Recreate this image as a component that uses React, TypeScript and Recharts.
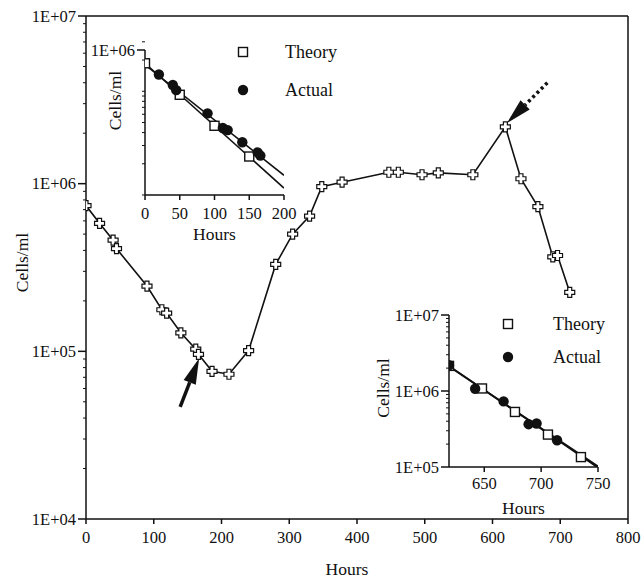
// Washout culture: cell density over time, with two fitted washout insets.
import React from 'react'
import { LineChart, Line, XAxis, YAxis, ReferenceLine, Legend } from 'recharts'

const FONT = "'Liberation Serif', 'Times New Roman', Times, serif"
const INK = '#111'
const txt = { fontFamily: FONT, fill: INK }

// full run
const hours = [0, 20, 40, 45, 90, 112, 119, 140, 162, 166, 186, 211, 240, 280, 305, 330, 348, 378, 447, 461, 496, 520, 571, 619, 642, 667, 689, 696, 714]
const cells = [7.4e5, 5.8e5, 4.6e5, 4.1e5, 2.45e5, 1.77e5, 1.69e5, 1.29e5, 1.03e5, 9.6e4, 7.6e4, 7.3e4, 1.01e5, 3.3e5, 5.0e5, 6.4e5, 9.6e5, 1.02e6, 1.17e6, 1.17e6, 1.13e6, 1.16e6, 1.13e6, 2.18e6, 1.07e6, 7.3e5, 3.66e5, 3.73e5, 2.25e5]

// first washout (0-200 h)
const wash1Hours = [0, 50, 100, 150]
const wash1Theory = [7.45e5, 3.7e5, 1.86e5, 9.4e4]
const fit1Hours = [0, 200]
const fit1Theory = [7.45e5, 4.66e4]
const fit1Actual = [7.2e5, 6.2e4]

// second washout (620-750 h)
const wash2Hours = [619, 648, 677, 706, 735]
const wash2Theory = [2.14e6, 1.08e6, 5.3e5, 2.67e5, 1.35e5]
const fit2Hours = [619, 750]
const fit2Theory = [2.14e6, 9.8e4]
const fit2Actual = [2.1e6, 1.02e5]

// arrows: [tail, tip] in hours / cells
const arrowSolid = { hours: [139, 167], cells: [4.66e4, 9.1e4] }
const arrowDotted = { hours: [681, 621], cells: [4.0e6, 2.29e6] }

const mainXTicks = [0, 100, 200, 300, 400, 500, 600, 700, 800]
const inset1XTicks = [0, 50, 100, 150, 200]
const inset2XTicks = [650, 700, 750]

const rows = (t: number[], v: number[]) => t.map((h, i) => ({ t: h, v: v[i] }))

const logTicks = (lo: number, hi: number) => {
  const out: number[] = []
  for (let d = lo; d < hi; d *= 10) {
    for (let m = 1; m < 10; m++) if (d * m >= lo) out.push(d * m)
  }
  out.push(hi)
  return out
}

const mainRows = rows(hours, cells)
const wash1Actual = mainRows.slice(1, 10)
const wash2Actual = mainRows.slice(23)

function YTick({ x, y, payload }: any) {
  const e = Math.log10(payload.value)
  const major = Math.abs(e - Math.round(e)) < 1e-6
  if (!major) return <line x1={x - 3} x2={x} y1={y} y2={y} stroke={INK} strokeWidth={1} />
  return (
    <g>
      <line x1={x - 8} x2={x} y1={y} y2={y} stroke={INK} strokeWidth={1.5} />
      <text x={x - 10} y={y} dy="0.35em" textAnchor="end" fontSize={16.5} style={txt}>
        {`1E+${String(Math.round(e)).padStart(2, '0')}`}
      </text>
    </g>
  )
}

const xTick = (gap: number) => ({ x, y, payload }: any) => (
  <g>
    <line x1={x} x2={x} y1={y} y2={y + 5} stroke={INK} strokeWidth={1.5} />
    <text x={x} y={y + gap} dy="0.35em" textAnchor="middle" fontSize={16.5} style={txt}>
      {payload.value}
    </text>
  </g>
)

const xTitle = (dx: number, dy: number) => (p: any) => {
  const vb = p.viewBox || p
  return (
    <text x={vb.x + vb.width / 2 + dx} y={vb.y + dy} dy="0.35em" textAnchor="middle" fontSize={17.5} style={txt}>
      Hours
    </text>
  )
}

const yTitle = (dx: number, dy: number) => (p: any) => {
  const vb = p.viewBox || p
  const cx = vb.x + dx
  const cy = vb.y + vb.height / 2 + dy
  return (
    <text x={cx} y={cy} dy="0.35em" textAnchor="middle" transform={`rotate(-90 ${cx} ${cy})`} fontSize={17.5} style={txt}>
      Cells/ml
    </text>
  )
}

const PlusDot = ({ cx, cy, index }: any) => {
  if (cx == null || cy == null) return null
  const a = 2, l = 5
  const d = `M${cx - a},${cy - l}H${cx + a}V${cy - a}H${cx + l}V${cy + a}H${cx + a}V${cy + l}H${cx - a}V${cy + a}H${cx - l}V${cy - a}H${cx - a}Z`
  return <path key={`p${index}`} d={d} fill="#fff" stroke={INK} strokeWidth={1.2} />
}

const SquareDot = ({ cx, cy, index }: any) => {
  if (cx == null || cy == null) return null
  return <rect key={`s${index}`} x={cx - 4.5} y={cy - 4.5} width={9} height={9} fill="#fff" stroke={INK} strokeWidth={1.4} />
}

const RoundDot = ({ cx, cy, index }: any) => {
  if (cx == null || cy == null) return null
  return <circle key={`c${index}`} cx={cx} cy={cy} r={5.2} fill={INK} />
}

const arrowShape = (dotted: boolean) => (p: any) => {
  const { x1, y1, x2, y2 } = p
  const len = Math.hypot(x2 - x1, y2 - y1) || 1
  const ux = (x2 - x1) / len, uy = (y2 - y1) / len
  const head = 26, half = 6.5
  const bx = x2 - ux * head, by = y2 - uy * head
  return (
    <g>
      <line x1={x1} y1={y1} x2={bx} y2={by} stroke={INK} strokeWidth={3.5} strokeDasharray={dotted ? '3 3' : undefined} />
      <polygon points={`${x2},${y2} ${bx - uy * half},${by + ux * half} ${bx + uy * half},${by - ux * half}`} fill={INK} />
    </g>
  )
}

// squares (theory) before dots (actual), whatever order the legend hands over
const insetKey = (textX: number, y0: number, gap: number) => (p: any) => {
  const items = (p.payload || [])
    .filter((e: any) => e.type !== 'none')
    .sort((a: any, b: any) => (a.type === 'square' ? -1 : 0) - (b.type === 'square' ? -1 : 0))
  return (
    <svg width={140} height={80} style={{ overflow: 'visible', display: 'block' }}>
      {items.map((e: any, i: number) => {
        const y = y0 + i * gap
        return (
          <g key={e.value}>
            {e.type === 'square'
              ? <rect x={8.5} y={y - 4.5} width={9} height={9} fill="#fff" stroke={INK} strokeWidth={1.4} />
              : <circle cx={13} cy={y} r={5.2} fill={INK} />}
            <text x={textX} y={y} dy="0.35em" fontSize={18} style={txt}>{e.value}</text>
          </g>
        )
      })}
    </svg>
  )
}

const axisLine = { stroke: INK, strokeWidth: 1.5 }

function EarlyWashout() {
  return (
    <LineChart width={300} height={210} margin={{ top: 10, right: 76, bottom: 0, left: 0 }}>
      <XAxis dataKey="t" type="number" domain={[0, 200]} ticks={inset1XTicks} interval={0} allowDataOverflow
        tickSize={0} tickMargin={0} tickLine={false} axisLine={axisLine} height={55}
        tick={xTick(18)} label={xTitle(0, 39)} />
      <YAxis type="number" scale="log" domain={[4e4, 1e6]} ticks={logTicks(4e4, 1e6)} interval={0} allowDataOverflow
        tickSize={0} tickMargin={0} tickLine={false} axisLine={axisLine} width={85}
        tick={<YTick />} label={yTitle(55, -22)} />
      <Legend layout="horizontal" verticalAlign="middle" align="center"
        wrapperStyle={{ left: 170, top: 0, width: 140, height: 80 }} content={insetKey(55, 12, 38)} />
      <Line data={rows(fit1Hours, fit1Theory)} dataKey="v" stroke={INK} strokeWidth={1.6} dot={false} legendType="none" isAnimationActive={false} />
      <Line data={rows(fit1Hours, fit1Actual)} dataKey="v" stroke={INK} strokeWidth={1.6} dot={false} legendType="none" isAnimationActive={false} />
      <Line data={rows(wash1Hours, wash1Theory)} dataKey="v" name="Theory" stroke="none" dot={SquareDot} legendType="square" isAnimationActive={false} />
      <Line data={wash1Actual} dataKey="v" name="Actual" stroke="none" dot={RoundDot} legendType="circle" isAnimationActive={false} />
    </LineChart>
  )
}

function LateWashout() {
  return (
    <LineChart width={270} height={220} margin={{ top: 15, right: 32, bottom: 0, left: 0 }}>
      <XAxis dataKey="t" type="number" domain={[619, 750]} ticks={inset2XTicks} interval={0} allowDataOverflow
        tickSize={0} tickMargin={0} tickLine={false} axisLine={axisLine} height={53}
        tick={xTick(16)} label={xTitle(0, 41)} />
      <YAxis type="number" scale="log" domain={[1e5, 1e7]} ticks={logTicks(1e5, 1e7)} interval={0} allowDataOverflow
        tickSize={0} tickMargin={0} tickLine={false} axisLine={axisLine} width={89}
        tick={<YTick />} label={yTitle(23, -3)} />
      <Legend layout="horizontal" verticalAlign="middle" align="center"
        wrapperStyle={{ left: 135, top: 10, width: 140, height: 80 }} content={insetKey(58, 14, 33)} />
      <Line data={rows(fit2Hours, fit2Theory)} dataKey="v" stroke={INK} strokeWidth={1.8} dot={false} legendType="none" isAnimationActive={false} />
      <Line data={rows(fit2Hours, fit2Actual)} dataKey="v" stroke={INK} strokeWidth={1.8} dot={false} legendType="none" isAnimationActive={false} />
      <Line data={rows(wash2Hours, wash2Theory)} dataKey="v" name="Theory" stroke="none" dot={SquareDot} legendType="square" isAnimationActive={false} />
      <Line data={wash2Actual} dataKey="v" name="Actual" stroke="none" dot={RoundDot} legendType="circle" isAnimationActive={false} />
    </LineChart>
  )
}

export default function App() {
  const seg = (a: { hours: number[]; cells: number[] }) =>
    a.hours.map((h, i) => ({ x: h, y: a.cells[i] }))
  return (
    <div style={{ position: 'absolute', left: 0, top: 0, width: 641, height: 579, background: '#fff' }}>
      <LineChart width={641} height={579} data={mainRows} margin={{ top: 16, right: 13, bottom: 0, left: 0 }}>
        <XAxis dataKey="t" type="number" domain={[0, 800]} ticks={mainXTicks} interval={0} allowDataOverflow
          tickSize={0} tickMargin={0} tickLine={false} axisLine={axisLine} height={60}
          tick={xTick(18)} label={xTitle(-10, 50)} />
        <YAxis type="number" scale="log" domain={[1e4, 1e7]} ticks={logTicks(1e4, 1e7)} interval={0} allowDataOverflow
          tickSize={0} tickMargin={0} tickLine={false} axisLine={axisLine} width={86}
          tick={<YTick />} label={yTitle(22, -5)} />
        <ReferenceLine y={1e7} stroke={INK} strokeWidth={1.5} />
        <ReferenceLine x={800} stroke={INK} strokeWidth={1.5} />
        <ReferenceLine segment={seg(arrowSolid)} shape={arrowShape(false)} />
        <ReferenceLine segment={seg(arrowDotted)} shape={arrowShape(true)} />
        <Line dataKey="v" stroke={INK} strokeWidth={1.6} dot={PlusDot} activeDot={false} isAnimationActive={false} />
      </LineChart>
      <div style={{ position: 'absolute', left: 60, top: 40 }}>
        <EarlyWashout />
      </div>
      <div style={{ position: 'absolute', left: 360, top: 300 }}>
        <LateWashout />
      </div>
    </div>
  )
}
